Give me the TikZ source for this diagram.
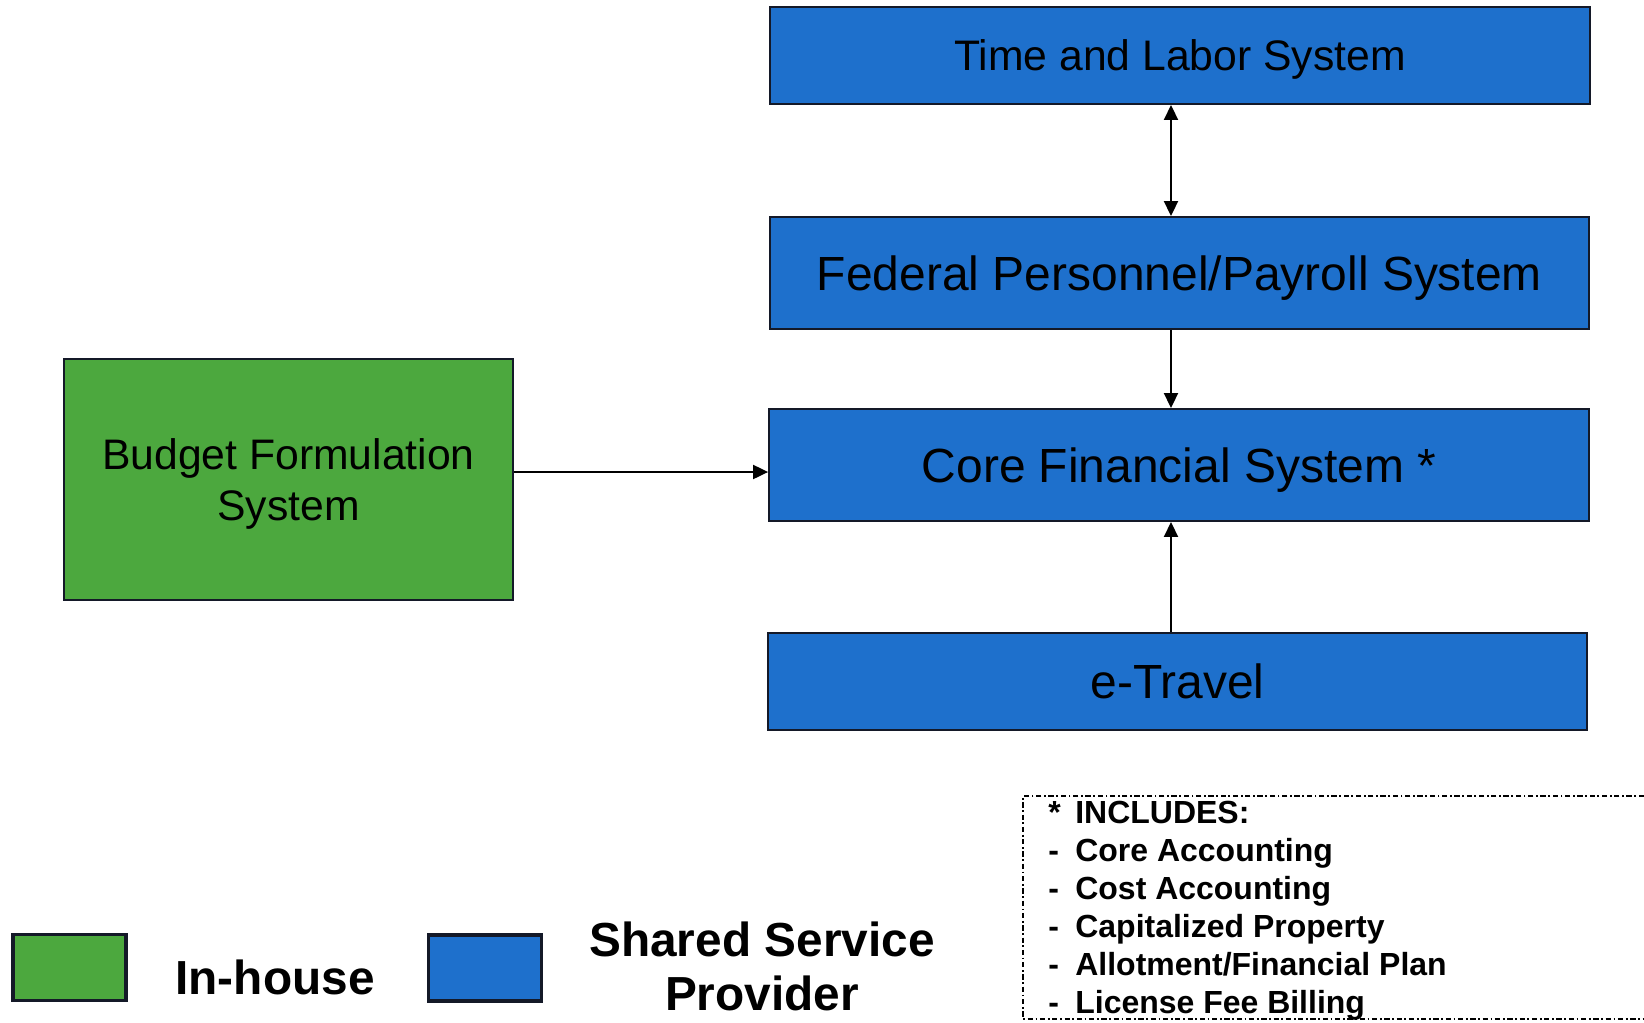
\documentclass[tikz,border=0pt]{standalone}
\usepackage{fontspec}
\setmainfont{Liberation Sans}
\usetikzlibrary{arrows.meta}
\definecolor{sspblue}{RGB}{30,112,204}
\definecolor{inhgreen}{RGB}{76,168,62}
\definecolor{boxedge}{RGB}{20,25,40}

\begin{document}
\begin{tikzpicture}[x=0.02cm,y=-0.02cm]

    \tikzset{
      sysbox/.style={
        draw=boxedge,
        line width=1.1pt,
        fill=sspblue,
        inner sep=0pt,
        align=center,
        text depth=0pt,
        minimum width=16.4cm,
      },
      inhbox/.style={
        sysbox,
        fill=inhgreen,
        minimum width=8.98cm,
        minimum height=4.82cm,
      },
      keybox/.style={
        draw=boxedge,
        line width=2.2pt,
        inner sep=0pt,
        minimum width=2.26cm,
        minimum height=1.32cm,
      },
      link/.style={
        line width=1.1pt,
        >={Triangle[length=0.3cm,width=0.28cm]},
      },
      incl/.style={
        anchor=base west,
        inner sep=0pt,
        font=\fontsize{18.2}{21.8}\selectfont\bfseries,
      },
    }
    \useasboundingbox (0,0) rectangle (1644,1022);

    % systems
    \node[sysbox, minimum height=1.94cm, font=\fontsize{24.3}{29}\selectfont] (tls) at (1180,55.5) {Time and Labor System};
    \node[sysbox, minimum height=2.24cm, font=\fontsize{27.3}{32}\selectfont] (fpps) at (1179.5,273) {Federal Personnel/Payroll System};
    \node[sysbox, minimum height=2.24cm, font=\fontsize{27.3}{32}\selectfont] (cfs) at (1179,465) {Core Financial System *};
    \node[sysbox, minimum height=1.94cm, font=\fontsize{27.3}{32}\selectfont] (etr) at (1177.5,681.5) {e-Travel};
    \node[inhbox, font=\fontsize{24.3}{29}\selectfont] (bfs) at (288.5,479.5) {Budget Formulation\\System};

    % connectors
    \coordinate (vx) at (1171,0);
    \coordinate (hy) at (0,472);
    \draw[link,<->] (tls.south -| vx) -- (fpps.north -| vx);
    \draw[link,->] (fpps.south -| vx) -- (cfs.north -| vx);
    \draw[link,->] (etr.north -| vx) -- (cfs.south -| vx);
    \draw[link,->] (bfs.east |- hy) -- (cfs.west |- hy);

    % includes note
    \draw[line width=0.7pt, dash pattern=on 3pt off 1.5pt on 1pt off 1.5pt] (1644,796) -| (1023,1019) -- (1644,1019);
    \node[incl] (inc0) at (1048,823) {\makebox[0.54cm][l]{*}INCLUDES:};
    \node[incl] (inc1) at (1048,861) {\makebox[0.54cm][l]{-}Core Accounting};
    \node[incl] (inc2) at (1048,899) {\makebox[0.54cm][l]{-}Cost Accounting};
    \node[incl] (inc3) at (1048,937) {\makebox[0.54cm][l]{-}Capitalized Property};
    \node[incl] (inc4) at (1048,975) {\makebox[0.54cm][l]{-}Allotment/Financial Plan};
    \node[incl] (inc5) at (1048,1013) {\makebox[0.54cm][l]{-}License Fee Billing};

    % legend
    \node[keybox, fill=inhgreen] (keyinh) at (69.5,967.5) {};
    \node[font=\fontsize{27.2}{32.8}\selectfont\bfseries, inner sep=0pt] (txtinh) at (275,977) {In-house};
    \node[keybox, fill=sspblue] (keyssp) at (485,968) {};
    \node[font=\fontsize{27.2}{30.5}\selectfont\bfseries, inner sep=0pt, anchor=north, align=center] (txtssp) at (762,922) {Shared Service\\Provider};

\end{tikzpicture}
\end{document}
